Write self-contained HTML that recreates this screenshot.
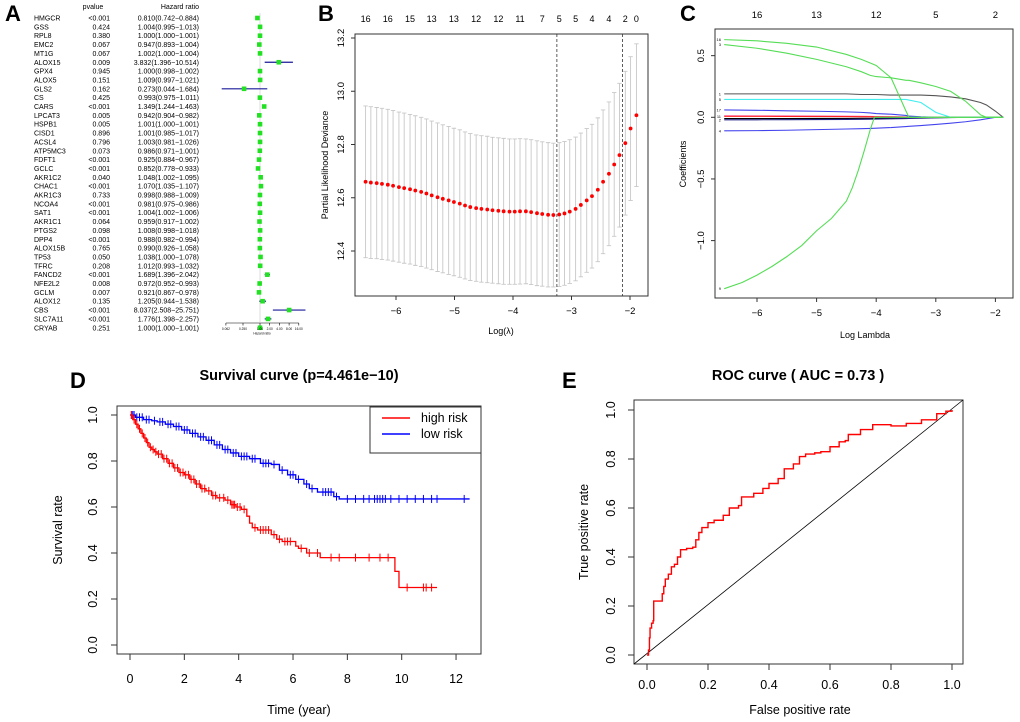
<!DOCTYPE html>
<html><head><meta charset="utf-8"><style>
html,body{margin:0;padding:0;background:#fff;}
svg{display:block;font-family:"Liberation Sans",Arial,sans-serif;}
</style></head><body>
<svg id="fig" width="1020" height="722" viewBox="0 0 1020 722" xmlns="http://www.w3.org/2000/svg">
<text x="5" y="21" font-size="22" font-weight="bold">A</text>
<text x="318" y="21" font-size="22" font-weight="bold">B</text>
<text x="680" y="21" font-size="22" font-weight="bold">C</text>
<text x="70" y="388" font-size="22" font-weight="bold">D</text>
<text x="562" y="388" font-size="22" font-weight="bold">E</text>
</svg>
<script>
// ---------- Panel A data ----------
const genes=["HMGCR","GSS","RPL8","EMC2","MT1G","ALOX15","GPX4","ALOX5","GLS2","CS","CARS","LPCAT3","HSPB1","CISD1","ACSL4","ATP5MC3","FDFT1","GCLC","AKR1C2","CHAC1","AKR1C3","NCOA4","SAT1","AKR1C1","PTGS2","DPP4","ALOX15B","TP53","TFRC","FANCD2","NFE2L2","GCLM","ALOX12","CBS","SLC7A11","CRYAB"];
const pvals=["<0.001","0.424","0.380","0.067","0.067","0.009","0.945","0.151","0.162","0.425","<0.001","0.005","0.005","0.896","0.796","0.073","<0.001","<0.001","0.040","<0.001","0.733","<0.001","<0.001","0.064","0.098","<0.001","0.765","0.050","0.208","<0.001","0.008","0.007","0.135","<0.001","<0.001","0.251"];
const hrs=[0.810,1.004,1.000,0.947,1.002,3.832,1.000,1.009,0.273,0.993,1.349,0.942,1.001,1.001,1.003,0.986,0.925,0.852,1.048,1.070,0.998,0.981,1.004,0.959,1.008,0.988,0.990,1.038,1.012,1.689,0.972,0.921,1.205,8.037,1.776,1.000];
const hrLo=[0.742,0.995,1.000,0.893,1.000,1.396,0.998,0.997,0.044,0.975,1.244,0.904,1.000,0.985,0.981,0.971,0.884,0.778,1.002,1.035,0.988,0.975,1.002,0.917,0.998,0.982,0.926,1.000,0.993,1.396,0.952,0.867,0.944,2.508,1.398,1.000];
const hrHi=[0.884,1.013,1.001,1.004,1.004,10.514,1.002,1.021,1.684,1.011,1.463,0.982,1.001,1.017,1.026,1.001,0.967,0.933,1.095,1.107,1.009,0.986,1.006,1.002,1.018,0.994,1.058,1.078,1.032,2.042,0.993,0.978,1.538,25.751,2.257,1.001];
const hrTicks=[0.062,0.250,1.00,2.00,4.00,8.00,16.00];
// ---------- Panel B data ----------
const cvLambda=[-6.52,-6.43,-6.33,-6.24,-6.14,-6.05,-5.95,-5.86,-5.76,-5.67,-5.57,-5.48,-5.39,-5.29,-5.20,-5.10,-5.01,-4.91,-4.82,-4.73,-4.63,-4.54,-4.44,-4.35,-4.25,-4.16,-4.06,-3.97,-3.88,-3.78,-3.69,-3.59,-3.50,-3.40,-3.31,-3.21,-3.12,-3.03,-2.93,-2.84,-2.74,-2.65,-2.55,-2.46,-2.36,-2.27,-2.18,-2.08,-1.99,-1.89];
const cvMean=[12.660,12.657,12.655,12.652,12.649,12.645,12.640,12.636,12.632,12.627,12.622,12.616,12.609,12.602,12.596,12.590,12.584,12.578,12.571,12.565,12.561,12.558,12.556,12.553,12.551,12.549,12.548,12.548,12.549,12.549,12.546,12.542,12.539,12.536,12.535,12.537,12.541,12.548,12.558,12.573,12.590,12.606,12.630,12.660,12.690,12.725,12.760,12.805,12.860,12.910];
const cvSe=[0.285,0.285,0.284,0.284,0.283,0.283,0.282,0.282,0.281,0.281,0.280,0.280,0.279,0.279,0.278,0.278,0.277,0.277,0.276,0.276,0.275,0.275,0.275,0.274,0.274,0.274,0.273,0.273,0.273,0.272,0.272,0.272,0.271,0.271,0.270,0.270,0.270,0.270,0.270,0.270,0.270,0.270,0.270,0.270,0.270,0.270,0.270,0.270,0.270,0.268];
const cvTopLam=[-6.52,-6.14,-5.76,-5.39,-5.01,-4.63,-4.25,-3.88,-3.50,-3.21,-2.93,-2.65,-2.36,-2.08,-1.89];
const cvTopNz=["16","16","15","13","13","12","12","11","7","5","5","4","4","2","0"];
const cvMinLam=-3.25, cv1seLam=-2.13;
const bYTicks=[12.4,12.6,12.8,13.0,13.2];
const bXTicks=[-6,-5,-4,-3,-2];
// ---------- Panel C data ----------
const pathLam=[-6.55,-6,-5.5,-5,-4.5,-4.25,-4.1,-4,-3.75,-3.5,-3.45,-3.25,-3,-2.75,-2.5,-2.25,-2.15,-2,-1.87];
const coef16=[0.63,0.62,0.60,0.57,0.51,0.47,0.44,0.42,0.32,0.05,0,0,0,0,0,0,0,0,0];
const coef3=[0.59,0.56,0.52,0.47,0.41,0.37,0.34,0.33,0.32,0.30,0.30,0.28,0.25,0.21,0.13,0.02,0,0,0];
const coef1=[0.19,0.19,0.19,0.19,0.19,0.185,0.185,0.185,0.18,0.18,0.18,0.18,0.175,0.165,0.15,0.12,0.10,0.05,0];
const coef5=[0.145,0.145,0.145,0.145,0.145,0.145,0.145,0.145,0.145,0.145,0.14,0.12,0.04,0,0,0,0,0,0];
const coef17=[0.06,0.057,0.053,0.049,0.044,0.04,0.035,0.03,0.025,0.015,0.01,0.004,0,0,0,0,0,0,0];
const coef4=[-0.11,-0.108,-0.105,-0.10,-0.095,-0.092,-0.09,-0.088,-0.083,-0.075,-0.073,-0.067,-0.058,-0.048,-0.036,-0.02,-0.012,0,0];
const lam9=[-6.55,-6.25,-6,-5.75,-5.5,-5.25,-5,-4.75,-4.5,-4.4,-4.3,-4.2,-4.1,-4.03,-3.9,-1.87];
const coef9=[-1.39,-1.34,-1.28,-1.21,-1.13,-1.04,-0.92,-0.82,-0.68,-0.57,-0.43,-0.27,-0.10,0,0,0];
const coefR=[0.008,0.008,0.007,0.007,0.006,0.005,0.005,0.004,0.003,0.002,0.001,0,0,0,0,0,0,0,0];
const coefP=[0.012,0.011,0.011,0.01,0.009,0.008,0.007,0.006,0.005,0.003,0.002,0.001,0,0,0,0,0,0,0];
const coefN=[-0.02,-0.02,-0.019,-0.018,-0.017,-0.016,-0.015,-0.014,-0.012,-0.01,-0.009,-0.007,-0.004,-0.002,0,0,0,0,0];
const coefK=[-0.01,-0.01,-0.01,-0.009,-0.009,-0.008,-0.008,-0.007,-0.006,-0.005,-0.004,-0.003,-0.002,-0.001,0,0,0,0,0];
const cTopLam=[-6,-5,-4,-3,-2];
const cTopNz=["16","13","12","5","2"];
const cYTicks=[-1.0,-0.5,0.0,0.5];
const cXTicks=[-6,-5,-4,-3,-2];
// ---------- Panel D data ----------
const hiT=[0,0.1,0.2,0.3,0.4,0.5,0.6,0.7,0.8,0.9,1.0,1.2,1.4,1.6,1.8,2.0,2.2,2.4,2.6,2.8,3.0,3.2,3.5,3.7,3.9,4.1,4.3,4.4,4.5,4.7,5.2,5.4,5.6,6.1,6.2,6.5,7.0,9.75,9.9];
const hiS=[1,0.98,0.96,0.94,0.92,0.90,0.88,0.86,0.85,0.84,0.83,0.81,0.79,0.77,0.75,0.74,0.72,0.70,0.68,0.67,0.65,0.64,0.63,0.61,0.60,0.59,0.56,0.53,0.51,0.50,0.48,0.46,0.45,0.43,0.42,0.40,0.38,0.32,0.25];
const hiEnd=11.3;
const hiCens=[0.05,0.15,0.25,0.35,0.45,0.55,0.65,0.75,0.85,0.95,1.05,1.15,1.25,1.35,1.45,1.55,1.65,1.75,1.85,1.95,2.05,2.15,2.25,2.35,2.45,2.55,2.65,2.75,2.9,3.05,3.15,3.3,3.45,3.6,3.75,3.8,3.85,3.95,4.05,4.2,4.6,4.8,4.9,5.0,5.1,5.3,5.5,5.7,5.8,5.9,6.3,6.6,6.9,7.4,7.7,8.3,8.8,9.2,9.5,10.2,10.8,10.9,11.1];
const loT=[0,0.2,0.5,0.8,1.0,1.3,1.6,1.9,2.2,2.5,2.8,3.1,3.4,3.7,4.0,4.4,4.8,5.2,5.5,5.8,6.1,6.4,6.6,6.9,7.5,7.7];
const loS=[1,0.99,0.98,0.975,0.97,0.96,0.95,0.935,0.92,0.905,0.89,0.87,0.85,0.835,0.82,0.81,0.79,0.785,0.76,0.74,0.72,0.70,0.68,0.665,0.645,0.635];
const loEnd=12.5;
const loCens=[0.05,0.1,0.15,0.25,0.35,0.45,0.6,0.7,0.9,1.1,1.2,1.4,1.5,1.7,1.8,2.0,2.1,2.3,2.4,2.6,2.7,2.9,3.0,3.2,3.3,3.5,3.6,3.8,3.9,4.1,4.2,4.3,4.5,4.6,4.9,5.0,5.1,5.3,5.6,5.9,6.0,6.2,6.5,6.7,7.1,7.2,7.3,7.4,7.6,8.0,8.3,8.6,8.8,9.0,9.1,9.2,9.3,9.4,9.6,9.9,10.2,10.5,10.8,11.1,11.3,12.3];
const dXTicks=[0,2,4,6,8,10,12];
const dYTicks=[0.0,0.2,0.4,0.6,0.8,1.0];
// ---------- Panel E data ----------
const rocFpr=[0,0.005,0.008,0.01,0.015,0.02,0.022,0.04,0.05,0.055,0.06,0.07,0.08,0.09,0.1,0.11,0.13,0.15,0.16,0.17,0.18,0.2,0.22,0.25,0.27,0.3,0.31,0.35,0.38,0.4,0.43,0.45,0.48,0.5,0.52,0.55,0.57,0.6,0.63,0.65,0.66,0.7,0.74,0.8,0.85,0.9,0.95,0.98,1];
const rocTpr=[0,0.02,0.07,0.11,0.13,0.14,0.22,0.22,0.25,0.28,0.31,0.33,0.36,0.37,0.40,0.43,0.435,0.44,0.47,0.50,0.52,0.54,0.55,0.57,0.60,0.61,0.645,0.66,0.68,0.70,0.72,0.76,0.78,0.81,0.82,0.825,0.83,0.85,0.87,0.875,0.90,0.92,0.94,0.935,0.945,0.96,0.985,0.995,1];
const eTicks=[0.0,0.2,0.4,0.6,0.8,1.0];

const svg=document.getElementById('fig');
const NS="http://www.w3.org/2000/svg";
function mk(tag,attrs,txt){const e=document.createElementNS(NS,tag);for(const k in attrs)e.setAttribute(k,attrs[k]);if(txt!==undefined)e.textContent=txt;svg.appendChild(e);return e;}
function poly(pts){return pts.map(p=>p[0].toFixed(2)+","+p[1].toFixed(2)).join(" ");}

// ===== Panel A =====
const rowY=i=>18+i*8.85;
const fx=v=>v<1?260+8.5*Math.log2(v):260+9.7*Math.log2(v);
let e;
e=mk('text',{x:93,y:9,'font-size':7,'text-anchor':'middle'},'pvalue');


e=mk('text',{x:199,y:9,'font-size':7,'text-anchor':'end'},'Hazard ratio');


e=mk('line',{x1:fx(1),x2:fx(1),y1:13,y2:322,stroke:'#dddddd','stroke-width':1});


genes.forEach((g,i)=>{
  const y=rowY(i);
  let t=mk('text',{x:34,y:y+2.5,'font-size':7},g);
  
  
  t=mk('text',{x:110,y:y+2.5,'font-size':7,'text-anchor':'end'},pvals[i]);
  
  
  t=mk('text',{x:199,y:y+2.5,'font-size':7,'text-anchor':'end'},hrs[i].toFixed(3)+"("+hrLo[i].toFixed(3)+"\u2212"+hrHi[i].toFixed(3)+")");
  
  
  const l=mk('line',{x1:fx(hrLo[i]),x2:fx(hrHi[i]),y1:y,y2:y,stroke:'#1a1a9a','stroke-width':1.2});
  
  
  const b=mk('rect',{x:fx(hrs[i])-2.3,y:y-2.3,width:4.6,height:4.6,fill:'#22e022'});
  
  
});
e=mk('line',{x1:fx(hrTicks[0]),x2:fx(hrTicks[hrTicks.length-1]),y1:323,y2:323,stroke:'#000','stroke-width':0.6});


hrTicks.forEach(v=>{
  const tk=mk('line',{x1:fx(v),x2:fx(v),y1:323,y2:325.5,stroke:'#000','stroke-width':0.6});
  
  
  const tl=mk('text',{x:fx(v),y:330,'font-size':3.2,'text-anchor':'middle'},v.toFixed(v<1?3:2));
  
  
});
e=mk('text',{x:fx(1)+2,y:334.5,'font-size':3.2,'text-anchor':'middle'},'Hazard ratio');



// ===== Panel B =====
const bx=v=>396+(v+6)*58.5;
const by=v=>251-(v-12.4)*(213/0.8);
e=mk('rect',{x:355,y:34,width:293,height:262,fill:'none',stroke:'#333','stroke-width':1});


cvLambda.forEach((L,i)=>{
  const x=bx(L),yu=by(cvMean[i]+cvSe[i]),yl=by(cvMean[i]-cvSe[i]);
  const g=mk('path',{d:`M${x},${yu}V${yl}M${x-2.2},${yu}H${x+2.2}M${x-2.2},${yl}H${x+2.2}`,stroke:'#c8c8c8','stroke-width':0.9,fill:'none'});
  
  
});
cvLambda.forEach((L,i)=>{
  const c=mk('circle',{cx:bx(L),cy:by(cvMean[i]),r:1.9,fill:'#ff0000'});
  
  
});
[cvMinLam,cv1seLam].forEach(L=>{
  const d=mk('line',{x1:bx(L),x2:bx(L),y1:34,y2:296,stroke:'#333','stroke-width':0.8,'stroke-dasharray':'3,2'});
  
  
});
bXTicks.forEach(v=>{
  const tk=mk('line',{x1:bx(v),x2:bx(v),y1:296,y2:300,stroke:'#333'});
  
  
  const tl=mk('text',{x:bx(v),y:314,'font-size':9.5,'text-anchor':'middle'},"\u2212"+Math.abs(v));
  
  
});
bYTicks.forEach(v=>{
  const tk=mk('line',{x1:351,x2:355,y1:by(v),y2:by(v),stroke:'#333'});
  
  
  const tl=mk('text',{x:0,y:0,'font-size':9.5,'text-anchor':'middle',transform:`translate(344,${by(v)}) rotate(-90)`},v.toFixed(1));
  
  
});
cvTopLam.forEach((L,i)=>{
  const tl=mk('text',{x:bx(L),y:22,'font-size':9,'text-anchor':'middle'},cvTopNz[i]);
  
  
});
e=mk('text',{x:501,y:334,'font-size':9,'text-anchor':'middle'},'Log(\u03bb)');


e=mk('text',{x:0,y:0,'font-size':9,'text-anchor':'middle',transform:'translate(328,165) rotate(-90)'},'Partial Likelihood Deviance');



// ===== Panel C =====
const cx=v=>757+(v+6)*59.6;
const cy=v=>117.3-v*123.3;
e=mk('rect',{x:715,y:29,width:298,height:269,fill:'none',stroke:'#333','stroke-width':1});


const paths=[[pathLam,coefK,'#000000'],[pathLam,coefN,'#22228a'],[pathLam,coefP,'#ff66bb'],[pathLam,coefR,'#ff2222'],[pathLam,coef4,'#4444ee'],[pathLam,coef17,'#4444ee'],[pathLam,coef5,'#44eeee'],[pathLam,coef1,'#555555'],[pathLam,coef3,'#55dd55'],[pathLam,coef16,'#55dd55'],[lam9,coef9,'#55dd55']];
paths.forEach(([lam,arr,col])=>{
  const p=mk('polyline',{points:poly(lam.map((L,i)=>[cx(L),cy(arr[i])])),fill:'none',stroke:col,'stroke-width':1.1});
  
  
});
const pathLbls=[["16",coef16],["3",coef3],["1",coef1],["5",coef5],["17",coef17],["4",coef4],["9",coef9],["11",coefR],["2",coefN]];
pathLbls.forEach(([s,arr])=>{
  const t=mk('text',{x:721,y:cy(arr[0])+1.5,'font-size':4,'text-anchor':'end'},s);
  
  
});
cXTicks.forEach(v=>{
  const tk=mk('line',{x1:cx(v),x2:cx(v),y1:298,y2:302,stroke:'#333'});
  
  
  const tl=mk('text',{x:cx(v),y:316,'font-size':9.5,'text-anchor':'middle'},"\u2212"+Math.abs(v));
  
  
});
cYTicks.forEach(v=>{
  const tk=mk('line',{x1:711,x2:715,y1:cy(v),y2:cy(v),stroke:'#333'});
  
  
  const tl=mk('text',{x:0,y:0,'font-size':9.5,'text-anchor':'middle',transform:`translate(704,${cy(v)}) rotate(-90)`},(v<0?"\u2212":"")+Math.abs(v).toFixed(1));
  
  
});
cTopLam.forEach((L,i)=>{
  const tl=mk('text',{x:cx(L),y:18,'font-size':9.5,'text-anchor':'middle'},cTopNz[i]);
  
  
});
e=mk('text',{x:865,y:338,'font-size':9,'text-anchor':'middle'},'Log Lambda');


e=mk('text',{x:0,y:0,'font-size':9,'text-anchor':'middle',transform:'translate(686,164) rotate(-90)'},'Coefficients');



// ===== Panel D =====
const dx=v=>130+v*27.17;
const dy=v=>645-v*230;
e=mk('text',{x:299,y:380,'font-size':14.5,'font-weight':'bold','text-anchor':'middle'},'Survival curve (p=4.461e\u221210)');


e=mk('rect',{x:117,y:406,width:364,height:248,fill:'none',stroke:'#333','stroke-width':1});


function stepPts(T,S,end){const p=[];for(let i=0;i<T.length;i++){if(i>0)p.push([dx(T[i]),dy(S[i-1])]);p.push([dx(T[i]),dy(S[i])]);}p.push([dx(end),dy(S[S.length-1])]);return p;}
function survAt(T,S,t){let s=S[0];for(let i=0;i<T.length;i++)if(T[i]<=t)s=S[i];return s;}
[[loT,loS,loEnd,loCens,'#0000ff','low-risk'],[hiT,hiS,hiEnd,hiCens,'#ff0000','high-risk']].forEach(([T,S,end,C,col,nm])=>{
  const p=mk('polyline',{points:poly(stepPts(T,S,end)),fill:'none',stroke:col,'stroke-width':1.3});
  
  
  C.forEach(t=>{
    const y=dy(survAt(T,S,t));
    const m=mk('line',{x1:dx(t),x2:dx(t),y1:y-4,y2:y+4,stroke:col,'stroke-width':1});
    
    
  });
});
dXTicks.forEach(v=>{
  const tk=mk('line',{x1:dx(v),x2:dx(v),y1:654,y2:660,stroke:'#333'});
  
  
  const tl=mk('text',{x:dx(v),y:683,'font-size':12.5,'text-anchor':'middle'},String(v));
  
  
});
dYTicks.forEach(v=>{
  const tk=mk('line',{x1:111,x2:117,y1:dy(v),y2:dy(v),stroke:'#333'});
  
  
  const tl=mk('text',{x:0,y:0,'font-size':12.5,'text-anchor':'middle',transform:`translate(97,${dy(v)}) rotate(-90)`},v.toFixed(1));
  
  
});
e=mk('text',{x:299,y:714,'font-size':12.5,'text-anchor':'middle'},'Time (year)');


e=mk('text',{x:0,y:0,'font-size':12.5,'text-anchor':'middle',transform:'translate(62,530) rotate(-90)'},'Survival rate');


e=mk('rect',{x:370,y:407,width:111,height:46,fill:'#fff',stroke:'#333','stroke-width':1});


[["high risk",'#ff0000',422],["low risk",'#0000ff',438]].forEach(([s,col,y])=>{
  const l=mk('line',{x1:382,x2:410,y1:y-4,y2:y-4,stroke:col,'stroke-width':1.5});
  
  
  const t=mk('text',{x:421,y:y,'font-size':12.5},s);
  
  
});

// ===== Panel E =====
const ex=v=>647+v*305;
const ey=v=>655-v*245;
e=mk('text',{x:798,y:380,'font-size':14.5,'font-weight':'bold','text-anchor':'middle'},'ROC curve ( AUC =  0.73 )');


e=mk('rect',{x:634,y:400,width:329,height:264,fill:'none',stroke:'#333','stroke-width':1});


e=mk('line',{x1:634,y1:664,x2:963,y2:400,stroke:'#000','stroke-width':0.8});


const rocPts=[];
rocFpr.forEach((f,i)=>{if(i>0)rocPts.push([ex(f),ey(rocTpr[i-1])]);rocPts.push([ex(f),ey(rocTpr[i])]);});
e=mk('polyline',{points:poly(rocPts),fill:'none',stroke:'#ff0000','stroke-width':1.4});


eTicks.forEach(v=>{
  const tk=mk('line',{x1:ex(v),x2:ex(v),y1:664,y2:670,stroke:'#333'});
  
  
  const tl=mk('text',{x:ex(v),y:689,'font-size':12.5,'text-anchor':'middle'},v.toFixed(1));
  
  
  const yk=mk('line',{x1:628,x2:634,y1:ey(v),y2:ey(v),stroke:'#333'});
  
  
  const yl=mk('text',{x:0,y:0,'font-size':12.5,'text-anchor':'middle',transform:`translate(615,${ey(v)}) rotate(-90)`},v.toFixed(1));
  
  
});
e=mk('text',{x:800,y:714,'font-size':12.5,'text-anchor':'middle'},'False positive rate');


e=mk('text',{x:0,y:0,'font-size':12.5,'text-anchor':'middle',transform:'translate(588,532) rotate(-90)'},'True positive rate');


</script>
</body></html>
